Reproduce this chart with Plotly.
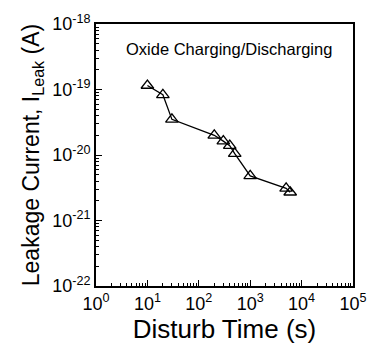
import plotly.graph_objects as go

disturb_time = [10, 20, 30, 200, 300, 400, 500, 1000, 5000, 6000]
leak_current = [1.15e-19, 8.3e-20, 3.5e-20, 2.0e-20, 1.63e-20, 1.39e-20, 1.05e-20, 4.8e-21, 3.1e-21, 2.7e-21]

x_tickvals = [1, 10, 100, 1000, 10000, 100000]
x_ticktext = ["10<sup>0</sup>", "10<sup>1</sup>", "10<sup>2</sup>", "10<sup>3</sup>", "10<sup>4</sup>", "10<sup>5</sup>"]
y_tickvals = [1e-22, 1e-21, 1e-20, 1e-19, 1e-18]
y_ticktext = ["10<sup>-22</sup>", "10<sup>-21</sup>", "10<sup>-20</sup>", "10<sup>-19</sup>", "10<sup>-18</sup>"]

x_minor = [d * m for d in x_tickvals[:-1] for m in range(2, 10)]
y_minor = [d * m for d in y_tickvals[:-1] for m in range(2, 10)]

font_family = "Liberation Sans, Arial, sans-serif"

fig = go.Figure()
fig.add_trace(go.Scatter(
    x=disturb_time, y=leak_current, mode="lines+markers",
    line=dict(color="black", width=1.3),
    marker=dict(symbol="triangle-up-open", size=11, color="black", line=dict(width=1.3)),
    showlegend=False,
))

fig.add_annotation(
    text="Oxide Charging/Discharging", x=0.11, y=0.906, xref="paper", yref="paper",
    xanchor="left", yanchor="middle", showarrow=False,
    font=dict(family=font_family, size=16.5, color="black"),
)

axis_common = dict(
    type="log", showgrid=False, zeroline=False,
    showline=True, linecolor="black", linewidth=2, mirror=True,
    ticks="inside", ticklen=6, tickwidth=1.2, tickcolor="black",
    tickfont=dict(family=font_family, size=18, color="black"),
)

fig.update_xaxes(
    **axis_common, range=[0, 5], tickmode="array", tickvals=x_tickvals, ticktext=x_ticktext,
    minor=dict(ticks="inside", ticklen=3, tickwidth=1.2, tickcolor="black", tickmode="array", tickvals=x_minor, showgrid=False),
    title=dict(text="Disturb Time (s)", font=dict(family=font_family, size=26, color="black"), standoff=2),
)
fig.update_yaxes(
    **axis_common, range=[-22, -18], tickmode="array", tickvals=y_tickvals, ticktext=y_ticktext,
    minor=dict(ticks="inside", ticklen=3, tickwidth=1.2, tickcolor="black", tickmode="array", tickvals=y_minor, showgrid=False),
    title=dict(text="Leakage Current, I<sub>Leak</sub> (A)", font=dict(family=font_family, size=23, color="black"), standoff=6),
)

fig.update_layout(
    width=379, height=346,
    margin=dict(l=96, r=12, t=20, b=59),
    paper_bgcolor="white", plot_bgcolor="white",
)

fig.write_html("out.html")
